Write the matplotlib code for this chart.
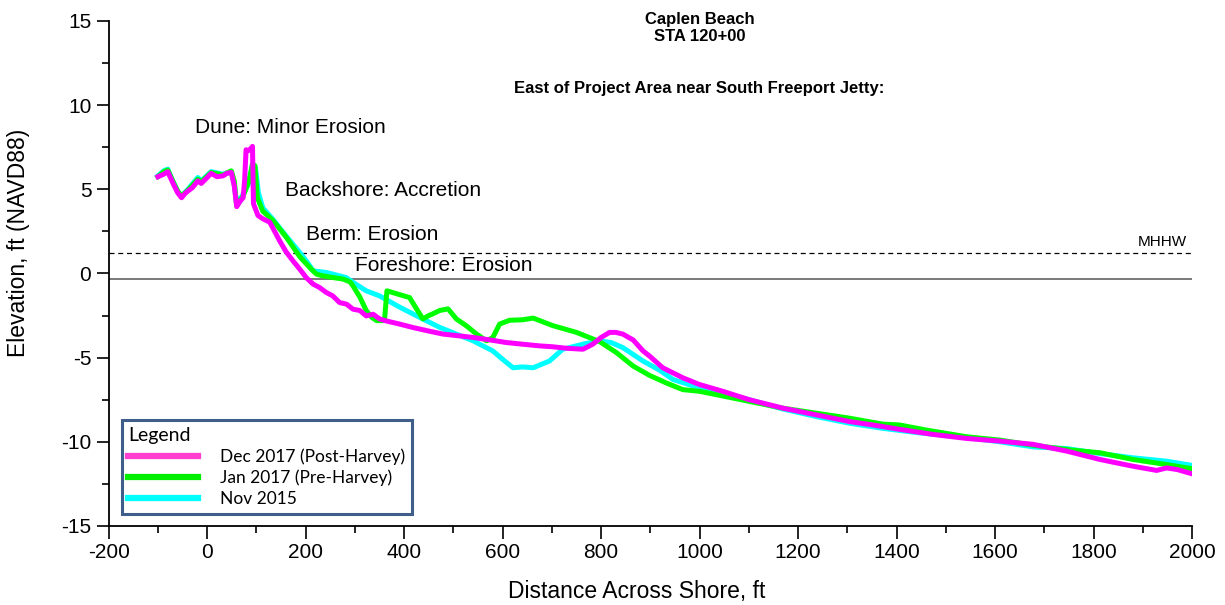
import numpy as np
import matplotlib
matplotlib.use('Agg')
import matplotlib.pyplot as plt
from matplotlib.lines import Line2D

plt.rcParams['font.family'] = ['Liberation Sans', 'DejaVu Sans']
plt.rcParams['axes.unicode_minus'] = False

# Dec 2017 (Post-Harvey) profile
x_dec17 = [-100, -88, -80, -70, -60, -52, -45, -39, -30, -19, -12, 0, 8, 20, 32, 40, 49,
           55, 60, 67, 73, 76, 79, 84, 88, 92, 94, 103, 113, 127, 137, 147, 160, 174,
           188, 201, 215, 228, 242, 255, 269, 283, 296, 310, 323, 337, 350, 364, 390,
           418, 450, 479, 510, 540, 575, 607, 640, 675, 700, 729, 763, 783, 800, 817,
           830, 844, 865, 885, 898, 925, 966, 1000, 1047, 1101, 1169, 1237, 1305, 1352,
           1406, 1474, 1542, 1610, 1677, 1745, 1813, 1880, 1928, 1948, 1970, 2000]
y_dec17 = [5.75, 5.9, 6.05, 5.4, 4.8, 4.5, 4.75, 4.9, 5.1, 5.5, 5.35, 5.7, 5.95, 5.75, 5.8,
           5.95, 6.0, 5.2, 3.97, 4.3, 4.5, 5.5, 7.35, 7.3, 7.4, 7.55, 4.15, 3.45, 3.25,
           3.05, 2.5, 1.95, 1.3, 0.76, 0.26, -0.24, -0.63, -0.83, -1.13, -1.33, -1.73,
           -1.82, -2.12, -2.2, -2.52, -2.42, -2.7, -2.82, -3.0, -3.21, -3.42, -3.6, -3.7,
           -3.8, -3.95, -4.1, -4.2, -4.3, -4.35, -4.44, -4.5, -4.2, -3.8, -3.5, -3.5,
           -3.6, -3.95, -4.6, -4.9, -5.6, -6.2, -6.6, -7.0, -7.5, -8.0, -8.4, -8.8, -9.0,
           -9.26, -9.56, -9.8, -9.96, -10.15, -10.55, -11.05, -11.45, -11.7, -11.55,
           -11.65, -11.9]

# Jan 2017 (Pre-Harvey) profile
x_jan17 = [-100, -88, -80, -70, -60, -52, -39, -19, -12, 8, 32, 49, 55, 60, 73, 85, 92, 97,
           102, 113, 134, 161, 188, 210, 222, 235, 255, 276, 290, 296, 310, 323, 334,
           344, 360, 365, 390, 411, 425, 438, 450, 458, 472, 489, 506, 526, 547, 567,
           580, 594, 614, 640, 662, 702, 750, 797, 831, 865, 898, 932, 953, 966, 1000,
           1034, 1101, 1169, 1237, 1305, 1372, 1406, 1460, 1542, 1610, 1677, 1758, 1813,
           1880, 1948, 2000]
y_jan17 = [5.75, 6.05, 6.15, 5.5, 4.9, 4.6, 4.95, 5.6, 5.45, 6.0, 5.85, 6.1, 5.5, 4.0, 4.6,
           5.5, 6.5, 6.4, 4.5, 3.7, 3.14, 2.14, 1.0, 0.3, -0.04, -0.14, -0.24, -0.33,
           -0.5, -0.73, -1.4, -2.2, -2.6, -2.8, -2.8, -1.03, -1.25, -1.43, -2.1, -2.7,
           -2.5, -2.4, -2.2, -2.1, -2.7, -3.1, -3.6, -4.0, -3.8, -3.0, -2.78, -2.75,
           -2.65, -3.1, -3.5, -4.05, -4.7, -5.5, -6.05, -6.5, -6.75, -6.9, -7.0, -7.2,
           -7.6, -8.0, -8.3, -8.6, -8.95, -9.0, -9.3, -9.7, -9.9, -10.2, -10.5, -10.65,
           -11.05, -11.35, -11.6]

# Nov 2015 profile
x_nov15 = [-100, -88, -80, -70, -60, -52, -39, -19, -12, 8, 32, 49, 55, 60, 73, 85, 92, 98,
           104, 113, 134, 161, 188, 205, 215, 242, 282, 300, 323, 350, 391, 431, 472,
           540, 580, 600, 621, 640, 662, 695, 722, 763, 797, 820, 844, 885, 919, 946,
           1000, 1101, 1169, 1237, 1305, 1372, 1440, 1542, 1610, 1677, 1745, 1813, 1880,
           1948, 2000]
y_nov15 = [5.8, 6.1, 6.2, 5.5, 4.9, 4.6, 5.0, 5.7, 5.5, 6.05, 5.9, 6.05, 5.3, 4.1, 4.7,
           5.4, 6.5, 6.3, 4.8, 3.9, 3.2, 2.2, 1.25, 0.6, 0.16, 0.06, -0.24, -0.6, -1.03,
           -1.33, -2.0, -2.6, -3.2, -4.0, -4.6, -5.1, -5.6, -5.55, -5.6, -5.2, -4.5, -4.2,
           -4.0, -4.1, -4.4, -5.2, -5.75, -6.3, -6.8, -7.5, -8.05, -8.5, -8.9, -9.2,
           -9.45, -9.75, -10.0, -10.3, -10.4, -10.7, -10.95, -11.15, -11.4]

mhhw = 1.2
zero_line = -0.3

fig = plt.figure(figsize=(12.25, 6.05), dpi=100)
ax = fig.add_axes([0.0887, 0.1306, 0.8845, 0.8347])

ax.axhline(mhhw, color='k', lw=0.9, ls=(0, (4, 3)))
ax.axhline(zero_line, color='#555555', lw=1.1)

ax.plot(x_nov15, y_nov15, color='#00ffff', lw=3.6, solid_joinstyle='round')
ax.plot(x_jan17, y_jan17, color='#00ff00', lw=3.6, solid_joinstyle='round')
ax.plot(x_dec17, y_dec17, color='#ff00ff', lw=3.6, solid_joinstyle='round')

ax.set_xlim(-200, 2000)
ax.set_ylim(-15, 15)
ax.set_xticks(np.arange(-200, 2001, 200))
ax.set_xticks(np.arange(-100, 2001, 200), minor=True)
ax.set_yticks(np.arange(-15, 16, 5))
ax.set_yticks(np.arange(-12.5, 15, 5), minor=True)
ax.tick_params(which='major', length=9, width=1.2, labelsize=15)
ax.tick_params(which='minor', length=5, width=1.2)
for s in ['top', 'right']:
    ax.spines[s].set_visible(False)
for s in ['left', 'bottom']:
    ax.spines[s].set_linewidth(1.3)

ax.set_xlabel('Distance Across Shore, ft', fontsize=16.5)
ax.set_ylabel('Elevation, ft (NAVD88)', fontsize=16.5)
ax.xaxis.set_label_coords(0.487, -0.106)
ax.yaxis.set_label_coords(-0.073, 0.56)

ax.text(1000, 14.58, 'Caplen Beach\nSTA 120+00', ha='center', va='center',
        fontsize=12, fontweight='bold', linespacing=1.2, clip_on=False)
ax.text(1000, 11.0, 'East of Project Area near South Freeport Jetty:', ha='center',
        va='center', fontsize=12, fontweight='bold')

ax.text(-25, 8.67, 'Dune: Minor Erosion', fontsize=15, va='center')
ax.text(159, 4.92, 'Backshore: Accretion', fontsize=15, va='center')
ax.text(200, 2.3, 'Berm: Erosion', fontsize=15, va='center')
ax.text(301, 0.46, 'Foreshore: Erosion', fontsize=15, va='center')
ax.text(1990, 1.85, 'MHHW', fontsize=11, ha='right', va='center')

handles = [Line2D([], [], color='#ff3fcf', lw=4.5),
           Line2D([], [], color='#00ee00', lw=4.5),
           Line2D([], [], color='#00ffff', lw=4.5)]
labels = ['Dec 2017 (Post-Harvey)', 'Jan 2017 (Pre-Harvey)', 'Nov 2015']
leg = ax.legend(handles, labels, loc='upper left', bbox_to_anchor=(0.0121, 0.21),
                borderaxespad=0, title='Legend', alignment='left', handlelength=4.0,
                handletextpad=1.3, fancybox=False, framealpha=1, edgecolor='#3f5f8a',
                borderpad=0.38, labelspacing=0.28, prop={'family': 'Lato', 'size': 12.5})
leg.get_title().set_fontfamily('Lato')
leg.get_title().set_fontsize(14)
leg.get_frame().set_linewidth(2.2)

fig.savefig('out.png', dpi=100)
